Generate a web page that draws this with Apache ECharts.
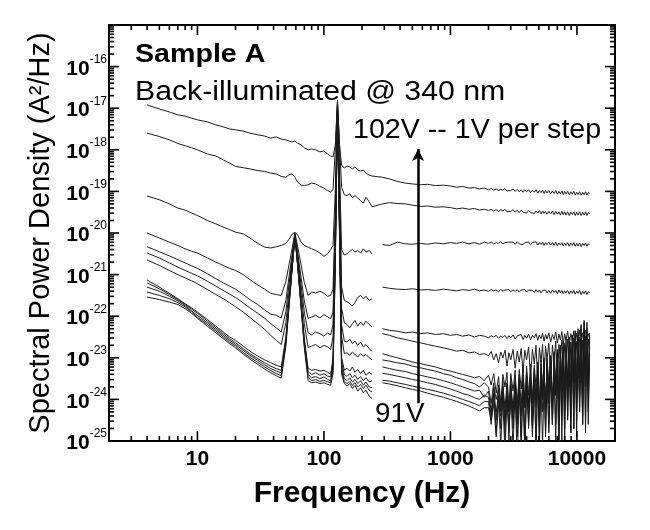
<!DOCTYPE html>
<html><head><meta charset="utf-8">
<script src="https://cdn.jsdelivr.net/npm/echarts@6/dist/echarts.min.js"></script>
<style>html,body{margin:0;padding:0;background:#fff}#c{width:650px;height:530px}</style>
</head><body><div id="c"></div>
<script>
// ---------------- DATA (PSD stored as log10 values, A^2/Hz) ----------------
const voltages = ['102V','101V','100V','99V','98V','97V','96V','95V','94V','93V','92V','91V'];
// low-frequency measurement range (Hz)
const loFreq = [4,5,6,7,8,9,10,12,14,16,18,20,23,26,30,34,38,42,46,50,53,56,59,62,66,70,75,80,86,93,100,107,113,118,123,128,133,138,145,152,160,168,176,185,195,205,215,228,240];
// high-frequency measurement range (Hz)
const hiFreq = [290,330,380,440,500,580,660,760,880,1000,1120,1250,1400,1550,1700,1850,
  2000,2100,2200,2300,2400,2500,2600,2700,2800,2900,
  3000,3125,3250,3375,3500,3625,3750,3875,
  4000,4150,4300,4450,4600,4750,4900,5050,5200,5350,5500,5650,5800,
  6000,6200,6400,6600,6800,7000,7200,7400,7600,7800,8000,8200,
  8450,8700,8950,9200,9450,9700,9950,
  10200,10500,10800,11100,11400,11700,12000,12300,12600];
// whether the low and high ranges are drawn as separate pieces
const segmentGap = [false,false,true,true,true,true,true,true,true,true,true,true];

const lo102 = [-16.92,-17.02,-17.09,-17.16,-17.19,-17.24,-17.28,-17.33,-17.40,-17.45,-17.50,-17.52,-17.55,-17.60,-17.64,-17.67,-17.72,-17.69,-17.74,-17.76,-17.79,-17.81,-17.79,-17.84,-17.88,-17.95,-18.00,-17.98,-18.00,-18.05,-18.03,-18.10,-18.15,-18.17,-17.90,-16.80,-17.90,-18.37,-18.44,-18.39,-18.41,-18.46,-18.41,-18.49,-18.51,-18.49,-18.56,-18.61,-18.63];
const hi102 = [-18.66,-18.70,-18.76,-18.80,-18.82,-18.84,-18.83,-18.86,-18.85,-18.87,-18.90,-18.88,-18.92,-18.91,-18.94,-18.92,
  -18.96,-18.93,-18.97,-18.94,-18.98,-18.95,-18.97,-18.93,-18.99,-18.95,
  -18.98,-18.94,-19.00,-18.95,-19.01,-18.96,-19.02,-18.96,
  -19.01,-18.96,-19.03,-18.97,-19.02,-18.96,-19.04,-18.98,-19.03,-18.97,-19.05,-18.98,-19.04,
  -18.98,-19.06,-18.99,-19.05,-18.98,-19.07,-19.00,-19.06,-18.99,-19.08,-19.00,-19.06,
  -19.00,-19.08,-19.01,-19.07,-19.00,-19.09,-19.02,
  -19.08,-19.01,-19.09,-19.02,-19.08,-19.01,-19.09,-19.03,-19.05];

const lo101 = [-17.60,-17.68,-17.76,-17.85,-17.90,-17.95,-18.00,-18.10,-18.15,-18.24,-18.32,-18.40,-18.43,-18.46,-18.50,-18.52,-18.56,-18.58,-18.64,-18.66,-18.60,-18.58,-18.66,-18.78,-18.85,-18.86,-18.84,-18.80,-18.82,-18.88,-18.92,-18.98,-19.02,-18.95,-18.00,-16.85,-17.90,-18.90,-19.08,-19.10,-19.06,-19.15,-19.10,-19.16,-19.22,-19.28,-19.14,-19.25,-19.37];
const hi101 = [-19.30,-19.27,-19.29,-19.30,-19.33,-19.36,-19.35,-19.38,-19.37,-19.39,-19.42,-19.40,-19.43,-19.41,-19.45,-19.43,
  -19.46,-19.43,-19.47,-19.44,-19.48,-19.44,-19.47,-19.43,-19.49,-19.45,
  -19.48,-19.44,-19.50,-19.45,-19.51,-19.45,-19.50,-19.46,
  -19.52,-19.46,-19.51,-19.47,-19.53,-19.47,-19.52,-19.46,-19.54,-19.47,-19.53,-19.48,-19.55,
  -19.48,-19.54,-19.47,-19.56,-19.48,-19.55,-19.49,-19.57,-19.48,-19.56,-19.49,-19.57,
  -19.49,-19.58,-19.50,-19.56,-19.49,-19.58,-19.50,
  -19.57,-19.49,-19.58,-19.50,-19.57,-19.49,-19.58,-19.51,-19.53];

const lo100 = [-19.11,-19.20,-19.30,-19.40,-19.45,-19.52,-19.58,-19.70,-19.78,-19.86,-19.92,-19.98,-20.02,-20.12,-20.25,-20.34,-20.36,-20.33,-20.30,-20.25,-20.15,-20.03,-19.98,-20.05,-20.22,-20.30,-20.34,-20.38,-20.42,-20.48,-20.56,-20.50,-20.40,-20.30,-19.00,-16.90,-18.50,-20.40,-20.53,-20.50,-20.44,-20.40,-20.46,-20.42,-20.48,-20.38,-20.46,-20.42,-20.50];
const hi100 = [-20.28,-20.30,-20.22,-20.26,-20.27,-20.25,-20.27,-20.24,-20.26,-20.23,-20.25,-20.22,-20.26,-20.23,-20.27,-20.22,
  -20.25,-20.22,-20.26,-20.23,-20.25,-20.21,-20.26,-20.23,-20.27,-20.22,
  -20.26,-20.22,-20.27,-20.21,-20.26,-20.22,-20.28,-20.23,
  -20.27,-20.22,-20.28,-20.23,-20.27,-20.21,-20.29,-20.23,-20.28,-20.22,-20.30,-20.23,-20.28,
  -20.22,-20.29,-20.23,-20.30,-20.22,-20.31,-20.24,-20.29,-20.23,-20.31,-20.24,-20.30,
  -20.23,-20.32,-20.24,-20.30,-20.23,-20.32,-20.25,
  -20.31,-20.24,-20.33,-20.25,-20.30,-20.24,-20.32,-20.26,-20.28];

const lo99 = [-20.00,-20.12,-20.22,-20.30,-20.38,-20.44,-20.48,-20.60,-20.70,-20.78,-20.85,-20.90,-21.00,-21.12,-21.25,-21.35,-21.45,-21.48,-21.50,-21.17,-20.76,-20.38,-20.00,-20.33,-20.77,-21.19,-21.50,-21.42,-21.44,-21.40,-21.45,-21.52,-21.50,-21.35,-19.50,-16.95,-18.80,-21.30,-21.62,-21.65,-21.70,-21.75,-21.68,-21.55,-21.50,-21.58,-21.52,-21.62,-21.58];
const hi99 = [-21.30,-21.33,-21.35,-21.36,-21.34,-21.37,-21.36,-21.38,-21.35,-21.37,-21.39,-21.36,-21.38,-21.35,-21.39,-21.37,
  -21.40,-21.36,-21.39,-21.37,-21.41,-21.36,-21.40,-21.37,-21.39,-21.36,
  -21.41,-21.37,-21.40,-21.36,-21.42,-21.37,-21.41,-21.36,
  -21.42,-21.37,-21.41,-21.38,-21.43,-21.36,-21.42,-21.37,-21.44,-21.38,-21.42,-21.37,-21.44,
  -21.38,-21.45,-21.37,-21.43,-21.38,-21.46,-21.37,-21.44,-21.38,-21.46,-21.39,-21.44,
  -21.38,-21.47,-21.39,-21.45,-21.38,-21.47,-21.40,
  -21.45,-21.38,-21.48,-21.40,-21.46,-21.39,-21.48,-21.41,-21.43];

const lo98 = [-20.33,-20.45,-20.55,-20.64,-20.72,-20.79,-20.85,-20.98,-21.10,-21.20,-21.28,-21.35,-21.48,-21.60,-21.72,-21.85,-21.95,-21.98,-22.04,-21.62,-21.05,-20.53,-20.02,-20.48,-21.07,-21.64,-22.05,-22.02,-21.98,-22.04,-21.96,-22.02,-22.06,-21.90,-19.80,-16.95,-19.00,-21.80,-22.16,-22.20,-22.28,-22.18,-22.10,-22.24,-22.14,-22.22,-22.12,-22.20,-22.26];
const hi98 = [-22.30,-22.34,-22.36,-22.40,-22.38,-22.42,-22.40,-22.44,-22.42,-22.46,-22.44,-22.48,-22.45,-22.50,-22.46,-22.48,
  -22.52,-22.47,-22.50,-22.46,-22.53,-22.48,-22.51,-22.46,-22.54,-22.47,
  -22.52,-22.45,-22.55,-22.47,-22.51,-22.44,-22.56,-22.46,
  -22.53,-22.43,-22.57,-22.46,-22.52,-22.42,-22.58,-22.45,-22.54,-22.41,-22.60,-22.44,-22.55,
  -22.40,-22.62,-22.44,-22.56,-22.38,-22.64,-22.43,-22.57,-22.37,-22.66,-22.42,-22.58,
  -22.36,-22.68,-22.42,-22.60,-22.35,-22.70,-22.41,
  -22.62,-22.34,-22.72,-22.40,-22.60,-22.33,-22.70,-22.42,-22.50];

const lo97 = [-20.48,-20.60,-20.72,-20.82,-20.90,-20.97,-21.03,-21.16,-21.28,-21.38,-21.47,-21.55,-21.68,-21.80,-21.93,-22.05,-22.18,-22.28,-22.38,-21.89,-21.22,-20.61,-20.03,-20.54,-21.25,-21.90,-22.40,-22.45,-22.38,-22.42,-22.48,-22.40,-22.45,-22.20,-20.00,-17.00,-19.30,-22.20,-22.60,-22.62,-22.55,-22.66,-22.60,-22.70,-22.62,-22.74,-22.68,-22.78,-22.85];
const hi97 = [-22.42,-22.46,-22.52,-22.56,-22.60,-22.64,-22.68,-22.72,-22.76,-22.80,-22.84,-22.82,-22.88,-22.86,-22.92,-22.90,
  -22.95,-22.85,-23.05,-22.90,-23.12,-22.86,-23.00,-22.82,-23.20,-22.88,
  -23.05,-22.80,-23.25,-22.84,-23.10,-22.78,-23.35,-22.82,
  -23.05,-22.74,-23.45,-22.80,-23.15,-22.70,-23.60,-22.76,-23.10,-22.68,-23.40,-22.72,-23.05,
  -22.65,-23.55,-22.70,-23.10,-22.60,-23.80,-22.68,-23.00,-22.58,-23.45,-22.64,-23.05,
  -22.55,-23.70,-22.62,-23.10,-22.52,-23.40,-22.60,
  -23.00,-22.50,-23.60,-22.58,-23.10,-22.48,-23.30,-22.55,-22.85];

const lo96 = [-20.65,-20.78,-20.90,-21.00,-21.08,-21.15,-21.22,-21.36,-21.48,-21.58,-21.68,-21.77,-21.90,-22.03,-22.18,-22.32,-22.46,-22.58,-22.68,-22.16,-21.40,-20.70,-20.04,-20.62,-21.43,-22.18,-22.75,-22.72,-22.68,-22.76,-22.70,-22.74,-22.80,-22.50,-20.20,-17.00,-19.50,-22.50,-22.90,-22.88,-22.94,-22.86,-22.92,-22.98,-22.90,-22.96,-22.92,-23.00,-23.05];
const hi96 = [-22.90,-22.95,-23.00,-23.05,-23.10,-23.14,-23.18,-23.22,-23.28,-23.32,-23.36,-23.40,-23.44,-23.48,-23.45,-23.55,
  -23.42,-23.65,-23.38,-23.85,-23.45,-24.10,-23.40,-23.70,-23.35,-24.30,
  -23.38,-23.80,-23.30,-24.50,-23.28,-23.75,-23.22,-24.20,
  -23.20,-23.90,-23.15,-24.60,-23.18,-23.70,-23.10,-24.30,-23.05,-23.80,-23.00,-24.80,-23.02,
  -23.60,-22.95,-24.20,-22.90,-23.70,-22.88,-24.50,-22.85,-23.50,-22.80,-24.00,-22.78,
  -23.60,-22.75,-24.40,-22.72,-23.50,-22.70,-24.10,
  -22.68,-23.40,-22.65,-24.60,-22.62,-23.30,-22.60,-23.90,-22.75];

const lo95 = [-21.13,-21.30,-21.45,-21.58,-21.70,-21.80,-21.90,-22.08,-22.24,-22.38,-22.50,-22.58,-22.72,-22.84,-22.96,-23.05,-23.12,-23.18,-23.22,-22.50,-21.62,-20.81,-20.05,-20.72,-21.66,-22.53,-23.25,-23.30,-23.28,-23.32,-23.30,-23.35,-23.40,-23.00,-20.40,-17.00,-19.80,-23.00,-23.30,-23.25,-23.32,-23.22,-23.35,-23.28,-23.38,-23.30,-23.42,-23.35,-23.40];
const hi95 = [-23.05,-23.08,-23.12,-23.15,-23.20,-23.24,-23.28,-23.32,-23.38,-23.42,-23.48,-23.52,-23.58,-23.62,-23.70,-23.60,
  -23.70,-24.10,-23.60,-24.50,-23.65,-24.20,-23.55,-24.90,-23.60,-24.30,
  -23.50,-24.70,-23.45,-24.10,-23.40,-25.30,-23.42,-24.00,
  -23.35,-24.60,-23.30,-23.95,-23.25,-25.10,-23.22,-24.20,-23.15,-23.80,-23.10,-24.70,-23.05,
  -23.90,-22.95,-24.50,-22.85,-23.70,-22.80,-25.20,-22.70,-23.80,-22.60,-24.30,-22.55,
  -23.60,-22.50,-24.80,-22.45,-23.50,-22.35,-24.20,
  -22.30,-23.40,-22.20,-24.60,-22.10,-23.30,-22.15,-23.80,-22.40];

const lo94 = [-21.20,-21.34,-21.48,-21.60,-21.72,-21.83,-21.93,-22.12,-22.28,-22.42,-22.54,-22.64,-22.78,-22.90,-23.02,-23.12,-23.20,-23.26,-23.30,-22.56,-21.66,-20.83,-20.06,-20.74,-21.70,-22.59,-23.33,-23.40,-23.36,-23.42,-23.38,-23.44,-23.46,-23.10,-20.50,-17.05,-19.90,-23.10,-23.40,-23.45,-23.38,-23.48,-23.42,-23.52,-23.45,-23.55,-23.48,-23.58,-23.55];
const hi94 = [-23.22,-23.26,-23.30,-23.33,-23.38,-23.42,-23.46,-23.50,-23.55,-23.60,-23.65,-23.70,-23.75,-23.80,-23.78,-23.95,
  -23.80,-24.30,-23.70,-24.00,-23.75,-24.70,-23.68,-24.20,-23.65,-25.00,
  -23.62,-24.20,-23.55,-24.60,-23.50,-24.10,-23.48,-25.40,
  -23.45,-24.10,-23.40,-24.50,-23.35,-23.95,-23.30,-24.80,-23.25,-24.00,-23.20,-24.40,-23.15,
  -23.80,-23.05,-24.60,-23.00,-23.90,-22.90,-24.30,-22.85,-23.70,-22.75,-25.10,-22.70,
  -23.80,-22.60,-24.20,-22.55,-23.60,-22.45,-24.90,
  -22.40,-23.50,-22.25,-24.10,-22.15,-23.60,-22.30,-24.30,-22.50];

const lo93 = [-21.30,-21.40,-21.52,-21.63,-21.75,-21.87,-21.98,-22.16,-22.32,-22.46,-22.58,-22.68,-22.82,-22.94,-23.06,-23.17,-23.26,-23.32,-23.36,-22.62,-21.70,-20.85,-20.07,-20.76,-21.73,-22.65,-23.40,-23.48,-23.45,-23.50,-23.46,-23.52,-23.55,-23.20,-20.60,-17.10,-20.00,-23.20,-23.50,-23.55,-23.48,-23.58,-23.52,-23.62,-23.55,-23.66,-23.58,-23.70,-23.72];
const hi93 = [-23.37,-23.40,-23.44,-23.48,-23.52,-23.56,-23.60,-23.64,-23.70,-23.75,-23.80,-23.86,-23.90,-23.96,-24.00,-23.90,
  -23.95,-24.40,-23.85,-24.80,-23.90,-24.30,-23.80,-24.60,-23.78,-24.20,
  -23.75,-25.20,-23.70,-24.30,-23.65,-24.90,-23.60,-24.20,
  -23.55,-24.70,-23.50,-24.10,-23.45,-25.30,-23.40,-24.40,-23.35,-24.00,-23.30,-24.90,-23.25,
  -24.10,-23.20,-24.60,-23.10,-23.90,-23.00,-24.40,-22.95,-25.00,-22.90,-23.80,-22.80,
  -24.50,-22.70,-23.90,-22.65,-24.70,-22.55,-23.70,
  -22.50,-24.30,-22.40,-23.60,-22.30,-24.80,-22.35,-23.50,-22.60];

const lo92 = [-21.42,-21.50,-21.58,-21.67,-21.78,-21.90,-22.02,-22.20,-22.36,-22.50,-22.62,-22.72,-22.87,-22.99,-23.11,-23.22,-23.31,-23.38,-23.43,-22.67,-21.73,-20.87,-20.08,-20.78,-21.76,-22.70,-23.47,-23.55,-23.52,-23.57,-23.54,-23.58,-23.60,-23.30,-20.70,-17.10,-20.10,-23.30,-23.58,-23.62,-23.56,-23.66,-23.60,-23.70,-23.64,-23.74,-23.66,-23.78,-23.82];
const hi92 = [-23.54,-23.56,-23.60,-23.64,-23.68,-23.72,-23.76,-23.80,-23.85,-23.90,-23.95,-24.00,-24.05,-24.10,-24.15,-24.05,
  -24.05,-24.60,-23.95,-24.30,-24.00,-25.10,-23.92,-24.40,-23.90,-24.80,
  -23.85,-24.30,-23.80,-25.50,-23.75,-24.40,-23.70,-24.90,
  -23.65,-24.20,-23.60,-24.70,-23.55,-24.10,-23.50,-25.20,-23.45,-24.30,-23.40,-24.00,-23.35,
  -24.60,-23.30,-24.10,-23.25,-25.00,-23.15,-24.20,-23.10,-24.50,-23.00,-23.90,-22.95,
  -24.40,-22.85,-23.80,-22.80,-24.70,-22.70,-23.90,
  -22.65,-24.20,-22.55,-23.70,-22.50,-24.50,-22.45,-23.60,-22.70];

const lo91 = [-21.54,-21.60,-21.66,-21.72,-21.82,-21.93,-22.05,-22.24,-22.40,-22.54,-22.66,-22.76,-22.91,-23.03,-23.16,-23.27,-23.36,-23.43,-23.49,-22.73,-21.77,-20.89,-20.09,-20.80,-21.80,-22.76,-23.55,-23.60,-23.58,-23.62,-23.60,-23.64,-23.66,-23.40,-20.80,-17.15,-20.20,-23.40,-23.62,-23.68,-23.62,-23.74,-23.66,-23.80,-23.72,-23.84,-23.78,-23.92,-23.98];
const hi91 = [-23.60,-23.63,-23.67,-23.72,-23.76,-23.80,-23.85,-23.90,-23.95,-24.00,-24.05,-24.10,-24.16,-24.22,-24.28,-24.20,
  -24.20,-24.50,-24.10,-24.90,-24.15,-24.40,-24.05,-25.30,-24.00,-24.60,
  -24.00,-24.40,-23.95,-24.90,-23.90,-24.30,-23.85,-25.20,
  -23.80,-24.40,-23.75,-24.90,-23.70,-24.20,-23.65,-24.60,-23.60,-25.10,-23.55,-24.30,-23.50,
  -24.80,-23.45,-24.10,-23.40,-24.60,-23.30,-25.20,-23.25,-24.20,-23.20,-24.70,-23.10,
  -24.00,-23.05,-24.80,-22.95,-24.10,-22.90,-24.50,
  -22.85,-23.90,-22.80,-24.40,-22.75,-23.70,-22.70,-24.60,-22.90];

const loSets = [lo102,lo101,lo100,lo99,lo98,lo97,lo96,lo95,lo94,lo93,lo92,lo91];
const hiSets = [hi102,hi101,hi100,hi99,hi98,hi97,hi96,hi95,hi94,hi93,hi92,hi91];

// axis ranges, ticks and tick labels
const xMin = 2, xMax = 20000;
const yMin = 1e-25, yMax = 1e-15;
const xMajorTicks = [10, 100, 1000, 10000];
const yMajorTicks = [1e-25,1e-24,1e-23,1e-22,1e-21,1e-20,1e-19,1e-18,1e-17,1e-16];
const minorMantissas = [2,3,4,5,6,7,8,9];
const xDecades = [1, 10, 100, 1000];
const yDecades = [1e-25,1e-24,1e-23,1e-22,1e-21,1e-20,1e-19,1e-18,1e-17,1e-16];

// annotation arrow (data coordinates)
const arrowFreq = 555, arrowFrom = 8.1e-25, arrowTo = 1.05e-18;

// ---------------- LAYOUT ----------------
const W = 650, H = 530;
const G = { left: 109, right: 35, top: 25, bottom: 89 };
const frame = { l: G.left, r: W - G.right, t: G.top, b: H - G.bottom };
const MAJOR_LEN = 10, MINOR_LEN = 5, TICK_W = 1.6;

// ---------------- CHART ----------------
const lg = Math.log10;
const xMinorTicks = [];
xDecades.forEach(d => minorMantissas.forEach(m => { const v = m * d; if (v > xMin) xMinorTicks.push(v); }));
const yMinorTicks = [];
yDecades.forEach(d => minorMantissas.forEach(m => yMinorTicks.push(m * d)));

const FONT = 'Liberation Sans, Arial, Helvetica, sans-serif';
const black = '#000';

const xAxis = {
  type: 'log', logBase: 10, position: 'bottom', min: xMin, max: xMax,
  splitLine: { show: false }, minorTick: { show: false },
  axisLine: { show: true, onZero: false, lineStyle: { color: black, width: 2 } },
  axisTick: { show: false },
  axisLabel: { show: true, customValues: xMajorTicks, formatter: v => String(Math.round(v)),
    margin: 8, fontSize: 21, fontWeight: 'bold', fontFamily: FONT, color: black },
  name: 'Frequency (Hz)', nameLocation: 'middle', nameGap: 38,
  nameTextStyle: { fontSize: 30, fontWeight: 'bold', fontFamily: FONT, color: black }
};
const yAxis = {
  type: 'log', logBase: 10, position: 'left', min: yMin, max: yMax,
  splitLine: { show: false }, minorTick: { show: false },
  axisLine: { show: true, onZero: false, lineStyle: { color: black, width: 2 } },
  axisTick: { show: false },
  axisLabel: { show: true, customValues: yMajorTicks, margin: 2,
    formatter: v => '{b|10}{s|' + Math.round(lg(v)) + '}',
    rich: {
      b: { fontSize: 21, fontWeight: 'bold', fontFamily: FONT, color: black, lineHeight: 26, verticalAlign: 'bottom' },
      s: { fontSize: 12, fontFamily: FONT, color: black, lineHeight: 12, verticalAlign: 'top' }
    } },
  name: 'Spectral Power Density (A\u00B2/Hz)', nameLocation: 'middle', nameGap: 52,
  nameTextStyle: { fontSize: 29, fontFamily: FONT, color: black }
};

const series = voltages.map((name, k) => {
  const data = loFreq.map((f, i) => [f, Math.pow(10, loSets[k][i])]);
  if (segmentGap[k]) data.push([265, '-']);
  hiFreq.forEach((f, i) => data.push([f, Math.pow(10, hiSets[k][i])]));
  return {
    name, type: 'line', data, showSymbol: false, symbol: 'none',
    connectNulls: false, silent: true, animation: false,
    lineStyle: { width: 1, color: '#1c1c1c' }
  };
});
// arrow annotation
series.push({
  type: 'line', data: [], silent: true, animation: false,
  markLine: {
    silent: true, animation: false, symbol: ['none', 'arrow'], symbolSize: [9, 12],
    label: { show: false },
    lineStyle: { color: black, width: 2.5, type: 'solid' },
    data: [[{ coord: [arrowFreq, arrowFrom] }, { coord: [arrowFreq, arrowTo] }]]
  }
});

const graphicEls = [
  { type: 'text', x: 135, y: 55, scaleX: 1.1, silent: true, z: 50,
    style: { text: 'Sample A', fontSize: 26, fontWeight: 'bold', fontFamily: FONT, fill: black, verticalAlign: 'middle' } },
  { type: 'text', x: 135, y: 93, scaleX: 1.12, silent: true, z: 50,
    style: { text: 'Back-illuminated @ 340 nm', fontSize: 27, fontFamily: FONT, fill: black, verticalAlign: 'middle' } },
  { type: 'text', x: 353, y: 131, scaleX: 1.06, silent: true, z: 50,
    style: { text: '102V -- 1V per step', fontSize: 27, fontFamily: FONT, fill: black, verticalAlign: 'middle' } },
  { type: 'text', x: 375, y: 415, scaleX: 1.03, silent: true, z: 50,
    style: { text: '91V', fontSize: 27, fontFamily: FONT, fill: black, verticalAlign: 'middle' } }
];

// inward log-scale tick marks on all four sides of the frame (same mapping as the grid's log axes)
try {
  const xPix = v => frame.l + (lg(v) - lg(xMin)) / (lg(xMax) - lg(xMin)) * (frame.r - frame.l);
  const yPix = v => frame.b - (lg(v) - lg(yMin)) / (lg(yMax) - lg(yMin)) * (frame.b - frame.t);
  const seg = (x1, y1, x2, y2) => graphicEls.push({ type: 'line', silent: true, z: 60,
    shape: { x1, y1, x2, y2 }, style: { stroke: black, lineWidth: TICK_W } });
  xMajorTicks.forEach(v => { const x = xPix(v); seg(x, frame.b, x, frame.b - MAJOR_LEN); seg(x, frame.t, x, frame.t + MAJOR_LEN); });
  xMinorTicks.forEach(v => { const x = xPix(v); seg(x, frame.b, x, frame.b - MINOR_LEN); seg(x, frame.t, x, frame.t + MINOR_LEN); });
  yMajorTicks.slice(1).forEach(v => { const y = yPix(v); seg(frame.l, y, frame.l + MAJOR_LEN, y); seg(frame.r, y, frame.r - MAJOR_LEN, y); });
  yMinorTicks.forEach(v => { const y = yPix(v); seg(frame.l, y, frame.l + MINOR_LEN, y); seg(frame.r, y, frame.r - MINOR_LEN, y); });
} catch (e) { /* keep chart even if tick construction fails */ }

const chart = echarts.init(document.getElementById('c'), null, { renderer: 'canvas' });
chart.setOption({
  backgroundColor: '#fff',
  animation: false,
  grid: { left: G.left, right: G.right, top: G.top, bottom: G.bottom, containLabel: false,
    show: true, borderColor: black, borderWidth: 2, backgroundColor: 'transparent' },
  xAxis, yAxis,
  series,
  graphic: graphicEls
});
</script>
</body></html>
